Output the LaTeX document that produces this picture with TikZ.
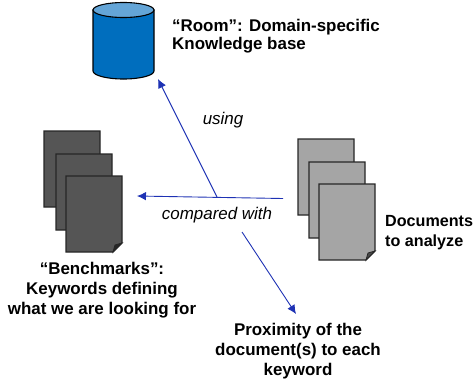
\documentclass[tikz,border=0pt]{standalone}
\usepackage{fontspec}
\setmainfont{Liberation Sans}
\definecolor{arrowblue}{RGB}{30,50,180}
\definecolor{cylblue}{RGB}{0,110,190}
\definecolor{cyltop}{RGB}{100,165,215}
\definecolor{darkpage}{RGB}{85,85,85}
\definecolor{lightpage}{RGB}{165,165,165}
\tikzset{
  lbl/.style={font=\fontsize{17}{20}\selectfont\bfseries,align=center,inner sep=0pt},
  lblleft/.style={lbl,align=left,anchor=west},
  ital/.style={font=\fontsize{17}{20}\selectfont\itshape,inner sep=0pt},
  conn/.style={draw=arrowblue,line width=0.9pt},
  tip/.style={conn,-{Latex[length=9pt,width=8.5pt]}},
  page/.pic={
    \fill[fill=\pgfkeysvalueof{/tikz/pagecol},draw=black!85,line width=1.1pt]
      (0,0)--(56,0)--(56,67)--(47,76)--(0,76)--cycle;
    \fill[fill=black!55!\pgfkeysvalueof{/tikz/pagecol},draw=black!85,line width=0.8pt]
      (56,67)--(49,69)--(47,76)--cycle;
  },
  pagecol/.initial=gray,
}
\usetikzlibrary{arrows.meta}
\begin{document}
\begin{tikzpicture}[x=1bp,y=-1bp]
\useasboundingbox (0,0) rectangle (475,385);
% cylinder
\path[fill=cylblue,draw=black,line width=1.1pt]
  (93,10) -- (93,71) arc[start angle=180,end angle=360,x radius=30.5,y radius=-8] -- (154,10) -- cycle;
\draw[fill=cyltop,draw=black,line width=1.1pt] (123.5,10) ellipse[x radius=30.5,y radius=7.5];
\coordinate (room) at (158,79);
% dark pages
\pic[pagecol=darkpage] at (44,131) {page};
\pic[pagecol=darkpage] at (56,154) {page};
\pic[pagecol=darkpage] at (66,176) {page};
\coordinate (bench) at (137,196);
% light pages
\pic[pagecol=lightpage] at (298,139) {page};
\pic[pagecol=lightpage] at (309,162) {page};
\pic[pagecol=lightpage] at (319,184) {page};
\coordinate (docs) at (283,198.5);
\coordinate (hub) at (217,197);
\coordinate (prox0) at (242,232);
\coordinate (prox1) at (296,314);
% connectors
\draw[tip] (docs) -- (bench);
\draw[tip] (hub) -- (room);
\draw[tip] (prox0) -- (prox1);
% labels
\node[lblleft] (tr) at (172,36) {“Room”: Domain-specific\\[-1.5pt]Knowledge base};
\node[ital] (tu) at (223,120) {using};
\node[ital] (tc) at (217,215) {compared with};
\node[lblleft,font=\fontsize{16.2}{20}\selectfont\bfseries] (td) at (385,232.5) {Documents\\to analyze};
\node[lbl] (tb) at (102,290) {“Benchmarks”:\\Keywords defining\\what we are looking for};
\node[lbl] (tp) at (298,351) {Proximity of the\\document(s) to each\\keyword};
\end{tikzpicture}
\end{document}
